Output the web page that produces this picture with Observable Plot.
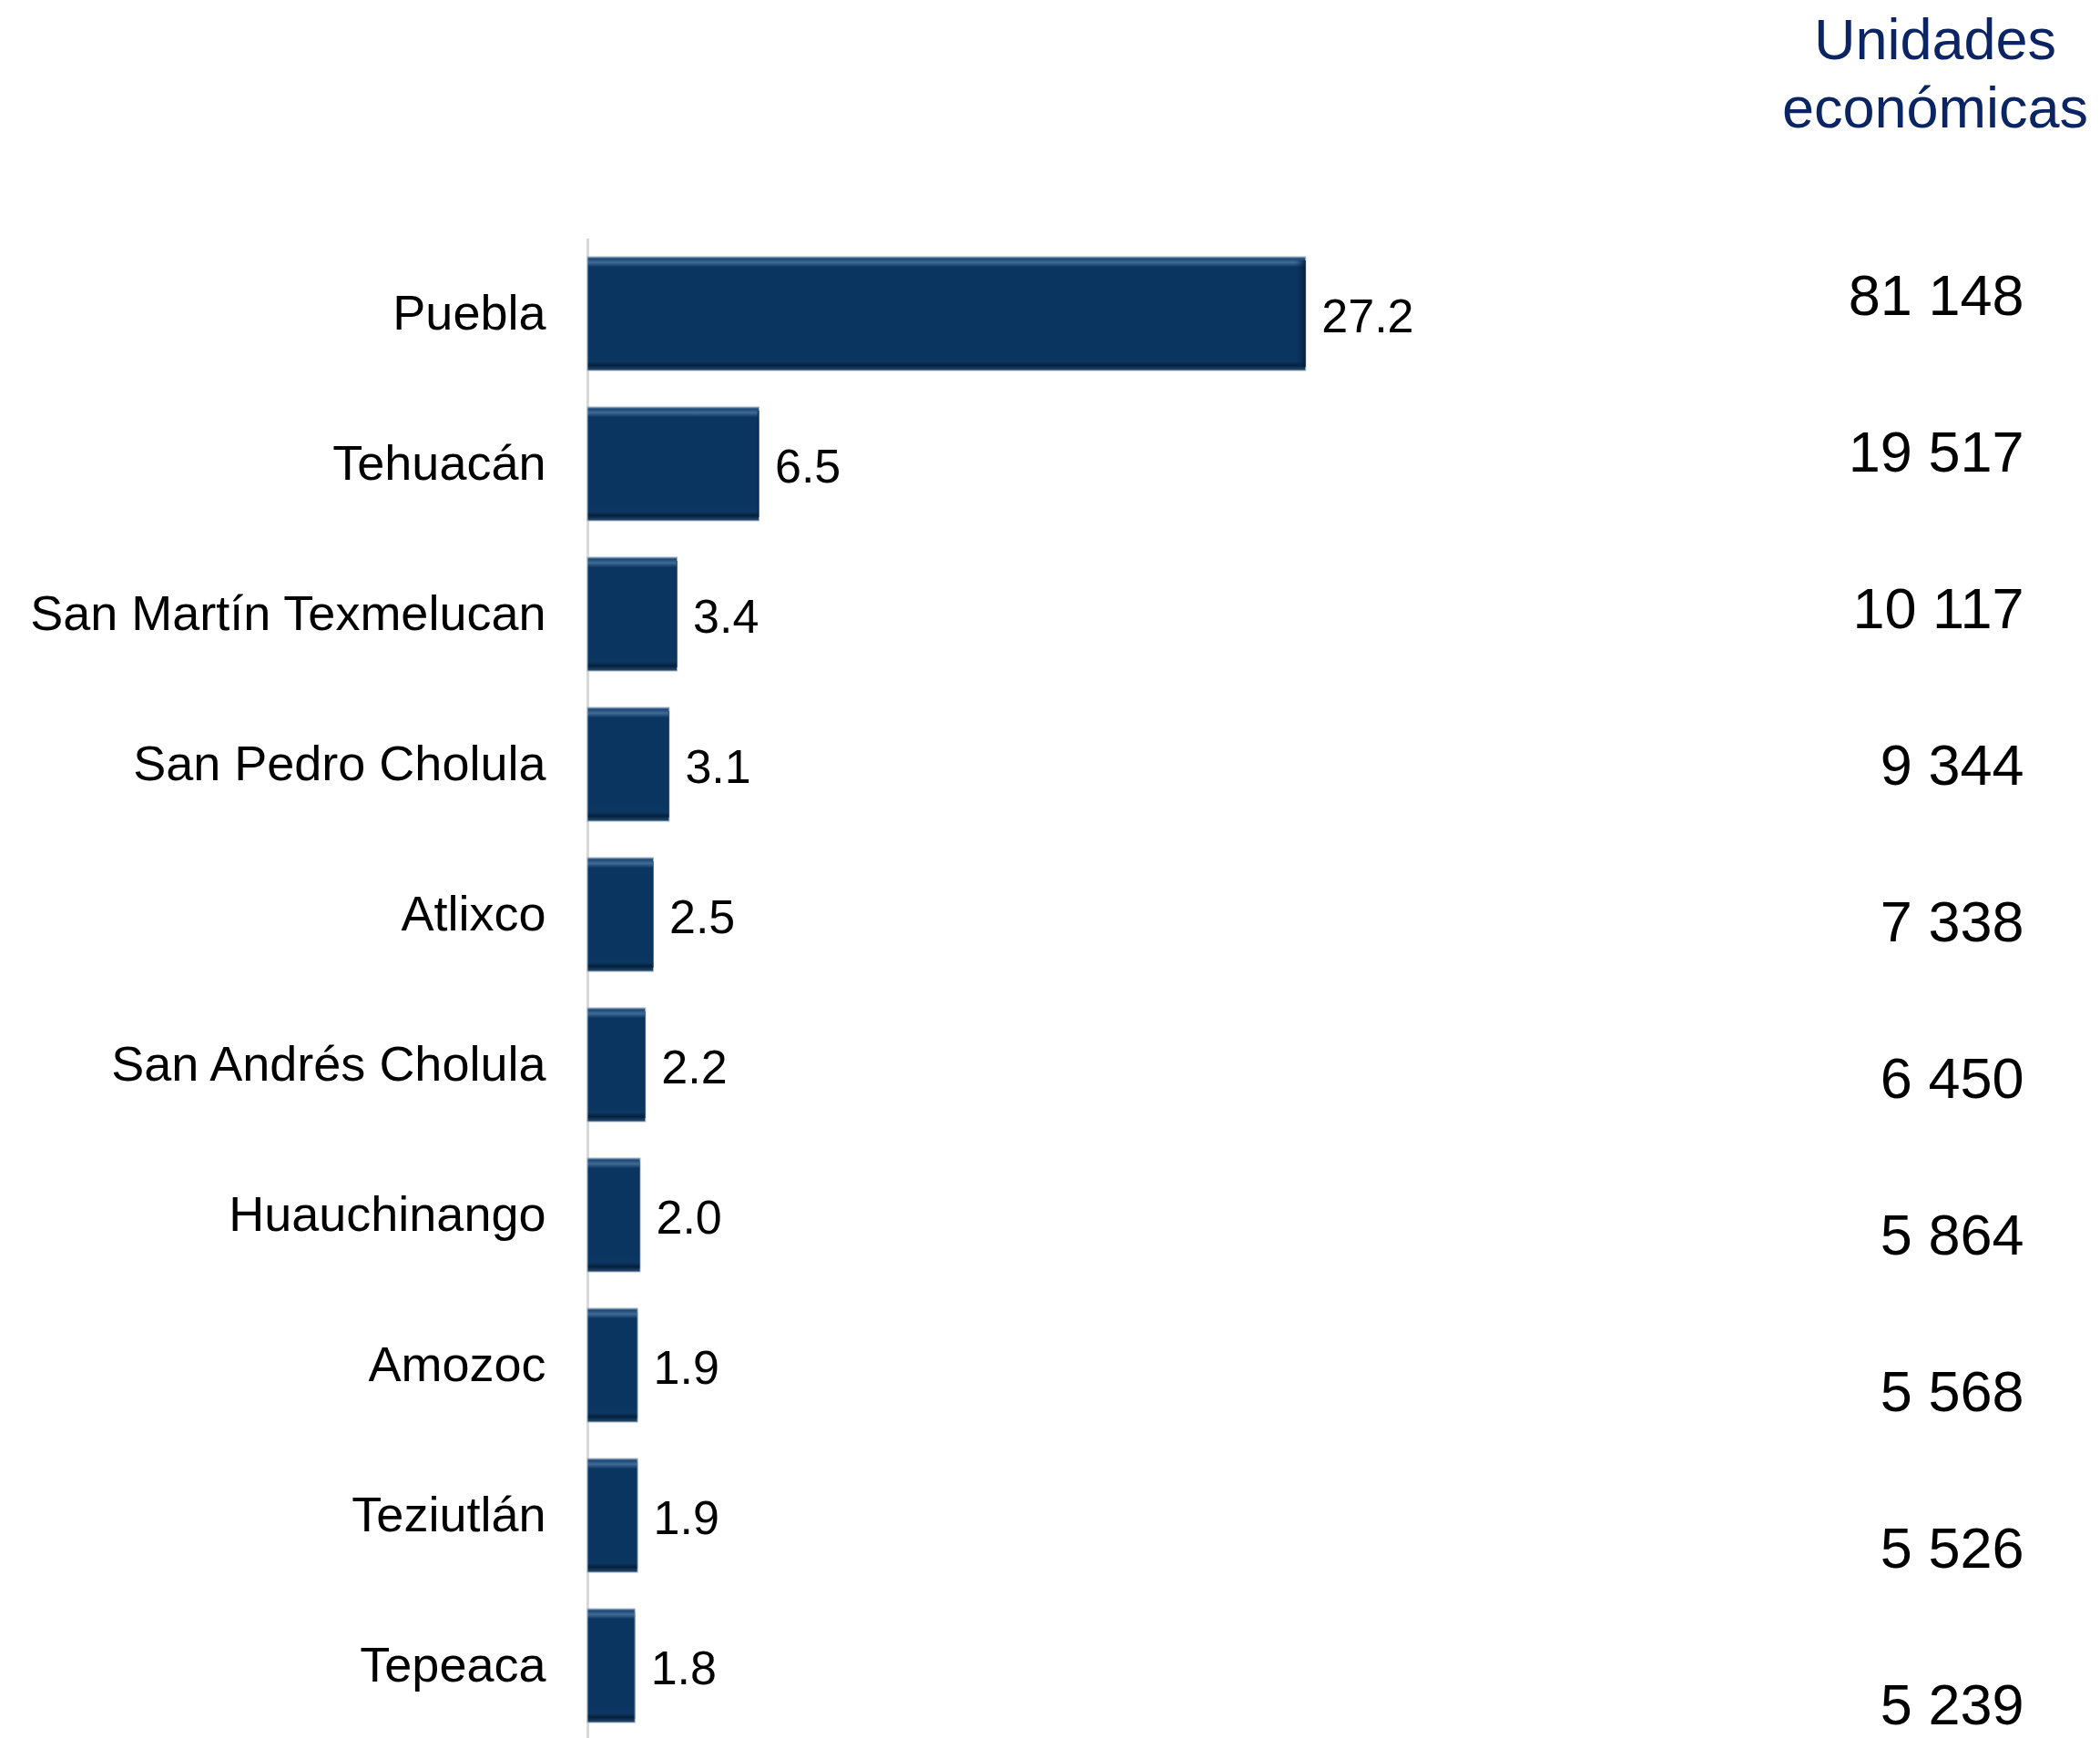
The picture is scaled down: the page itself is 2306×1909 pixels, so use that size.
<!DOCTYPE html>
<html>
<head>
<meta charset="utf-8">
<script src="https://cdn.jsdelivr.net/npm/d3@7"></script>
<script src="https://cdn.jsdelivr.net/npm/@observablehq/plot@0.6"></script>
<style>
  html, body { margin: 0; padding: 0; background: white; }
  #wrap { position: relative; width: 2306px; height: 1909px; overflow: hidden; }
  #wrap svg { position: absolute; top: 0; left: 0; }
  #title { position: absolute; left: 1925px; top: 6px; width: 400px; text-align: center;
    font-family: "Liberation Sans", Arial, sans-serif; font-size: 63px; line-height: 75px; color: #0b2463; }
</style>
</head>
<body>
<div id="wrap">
  <div id="title">Unidades<br>económicas</div>
</div>
<script>
const municipios = ["Puebla","Tehuacán","San Martín Texmelucan","San Pedro Cholula","Atlixco","San Andrés Cholula","Huauchinango","Amozoc","Teziutlán","Tepeaca"];
const porcentajes = [27.2, 6.5, 3.4, 3.1, 2.5, 2.2, 2.0, 1.9, 1.9, 1.8];
const unidades = [81148, 19517, 10117, 9344, 7338, 6450, 5864, 5568, 5526, 5239];
const titulo = "Unidades económicas";

const data = municipios.map((m, i) => ({mun: m, pct: porcentajes[i], u: unidades[i]}));
const fmtPct = d3.format(".1f");
const fmtU = d3.formatLocale({decimal: ".", thousands: " ", grouping: [3], currency: ["", ""]}).format(",");

const W = 2306, H = 1909;
const font = "'Liberation Sans', Arial, sans-serif";

const main = Plot.plot({
  width: W, height: H,
  marginTop: 262, marginBottom: 0, marginLeft: 645, marginRight: 211,
  style: {fontFamily: font, background: "transparent", color: "black"},
  x: {domain: [0, 50], axis: null},
  y: {domain: municipios, range: [259, 1914], paddingInner: 0.244, paddingOuter: 0.122, label: null},
  marks: [
    Plot.axisY({tickSize: 0, tickPadding: 46, fontSize: 54, label: null}),
    Plot.ruleX([0], {stroke: "#d9d9d9", strokeWidth: 3}),
    Plot.barX(data, {x: "pct", y: "mun", fill: "url(#bevel)", stroke: "#a9b8c8", strokeWidth: 1}),
    Plot.barX(data, {x1: d => d.pct * 0.985, x2: "pct", y: "mun", fill: "url(#edge)", insetTop: 4, insetBottom: 4}),
    Plot.text(data, {x: "pct", y: "mun", text: d => fmtPct(d.pct), dx: 17, dy: 3, textAnchor: "start", fontSize: 52, fill: "black"})
  ]
});

const defs = d3.select(main).insert("defs", ":first-child");
const g = defs.append("linearGradient").attr("id", "bevel").attr("x1", 0).attr("y1", 0).attr("x2", 0).attr("y2", 1);
[[0, "#6a8aac"], [0.02, "#1d4a77"], [0.05, "#416b95"], [0.09, "#0a3560"], [0.86, "#0a3560"],
 [0.92, "#0c3762"], [0.955, "#03203d"], [1, "#2a4d72"]].forEach(([o, c]) =>
  g.append("stop").attr("offset", o).attr("stop-color", c));
const e = defs.append("linearGradient").attr("id", "edge").attr("x1", 0).attr("y1", 0).attr("x2", 1).attr("y2", 0);
[[0, "#0a3560", 0], [1, "#021a33", 0.9]].forEach(([o, c, op]) =>
  e.append("stop").attr("offset", o).attr("stop-color", c).attr("stop-opacity", op));

const overlay = Plot.plot({
  width: W, height: H,
  marginTop: 0, marginBottom: 0, marginLeft: 0, marginRight: 84,
  style: {fontFamily: font, background: "transparent", color: "black"},
  y: {type: "point", domain: municipios, range: [321, 1877], padding: 0, axis: null},
  marks: [
    Plot.text(data, {y: "mun", text: d => fmtU(d.u), frameAnchor: "right", fontSize: 63, fill: "black"})
  ]
});

const wrap = document.getElementById("wrap");
wrap.insertBefore(main, wrap.firstChild);
wrap.appendChild(overlay);
</script>
</body>
</html>
